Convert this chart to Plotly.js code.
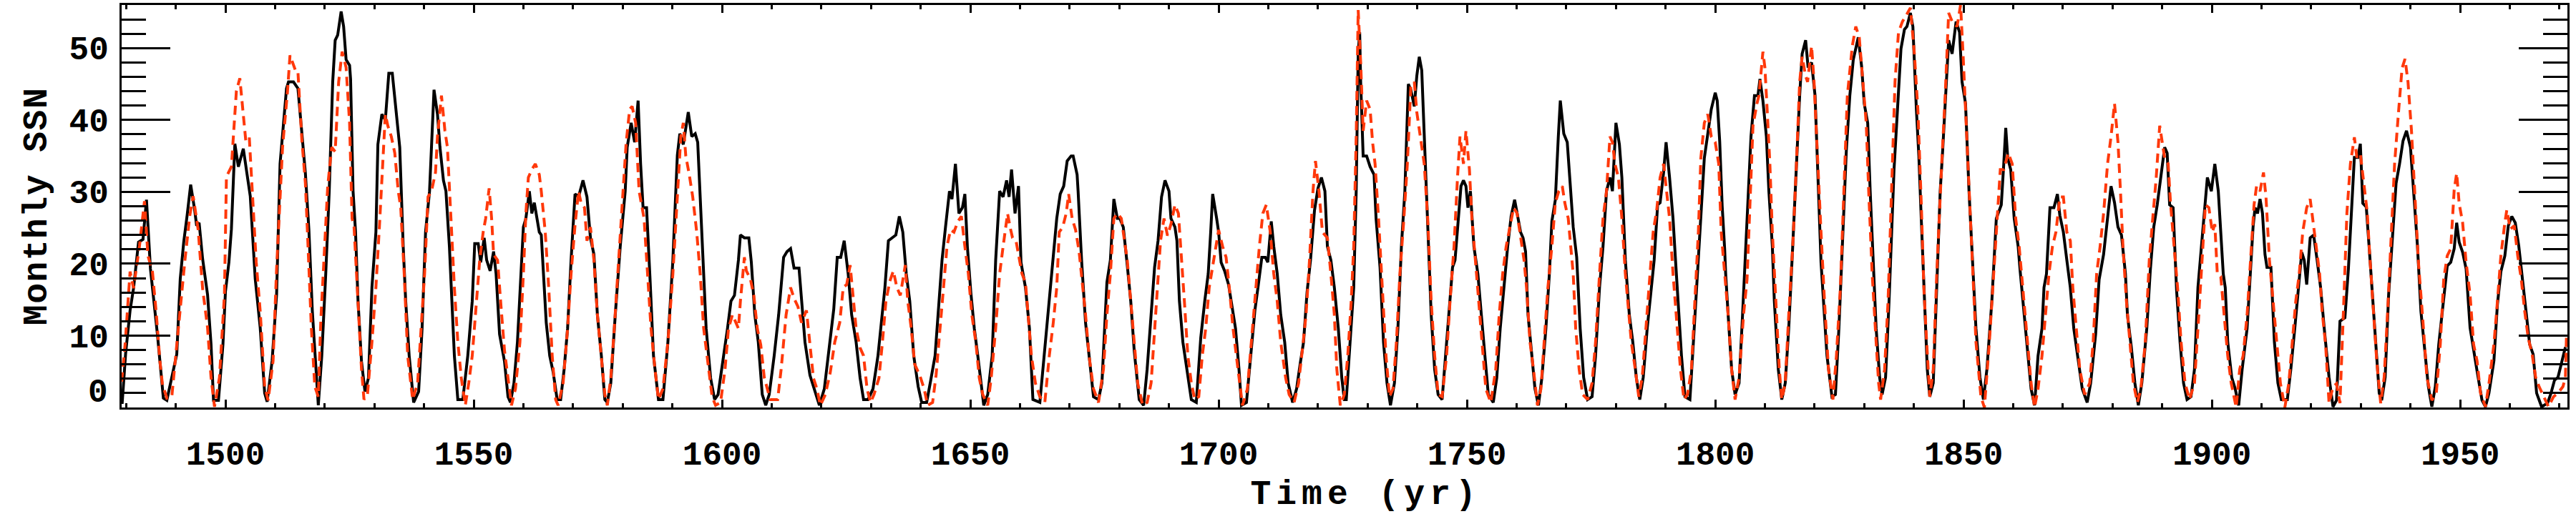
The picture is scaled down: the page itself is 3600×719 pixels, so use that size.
<!DOCTYPE html>
<html>
<head>
<meta charset="utf-8">
<script src="https://cdn.plot.ly/plotly-3.0.1.min.js"></script>
<style>
  html, body { margin: 0; padding: 0; background: #fff; }
  #chart { width: 3600px; height: 719px; }
  /* wide, airy lettering for the x-axis title */
  g.annotation[data-index="0"] text { letter-spacing: 7px; }
  .ytitle { letter-spacing: 1.5px; }
</style>
</head>
<body>
<div id="chart"></div>
<script>
// Reconstructed monthly sunspot number (solid, black)
const blackYear = [1479.2,1479.9,1480.8,1481.5,1482.5,1483.4,1484.1,1484.9,1486.3,1487.5,1488.2,1490.2,1490.9,1491.6,1492.3,1493.0,1493.8,1494.2,1494.7,1495.4,1496.4,1497.1,1497.6,1498.6,1499.5,1500.0,1500.7,1501.2,1501.9,1502.6,1503.6,1504.3,1505.0,1506.0,1507.0,1507.9,1508.4,1509.4,1510.3,1511.0,1512.3,1512.7,1513.7,1514.6,1515.4,1516.1,1516.8,1517.5,1518.7,
1519.4,1520.2,1520.9,1521.6,1522.1,1522.6,1523.3,1523.8,1524.3,1525.0,1525.2,1525.7,1526.2,1526.7,1527.4,1528.1,1528.8,1529.5,1530.3,1530.7,1531.5,1532.2,1532.9,1533.6,1534.3,1535.1,1535.8,1536.3,1537.0,1537.9,1538.9,1539.6,1540.3,1541.1,1542.0,1542.7,1543.2,1543.9,1544.4,1545.1,1545.6,1546.1,1546.8,1547.8,1548.8,1549.7,1550.2,1550.9,1551.4,1552.1,1552.6,1553.3,1554.0,1554.5,1555.2,1556.2,1556.9,1557.4,1558.1,1558.8,
1560.0,1560.5,1561.2,1561.7,1562.2,1562.7,1563.2,1563.6,1564.1,1564.6,1565.3,1566.0,1566.8,1567.5,1568.2,1568.9,1569.6,1570.4,1571.1,1572.0,1572.8,1573.5,1574.2,1574.9,1575.7,1576.4,1576.9,1577.6,1578.5,1579.5,1580.5,1580.9,1581.7,1582.4,1583.1,1583.6,1584.1,1584.8,1585.5,1586.2,1587.2,1588.1,1589.1,1590.1,1591.0,1591.5,1592.2,1593.2,1593.9,1594.6,1595.1,1595.6,1596.3,1596.8,1597.7,1598.5,1599.2,
1600.1,1601.1,1601.8,1602.5,1603.3,1603.7,1604.5,1605.4,1605.9,1606.6,1607.3,1608.1,1608.8,1609.5,1610.5,1611.4,1612.4,1613.1,1613.8,1614.5,1615.5,1616.0,1616.7,1617.7,1618.6,1619.6,1620.6,1621.5,1622.5,1623.2,1623.9,1624.6,1625.4,1626.1,1627.0,1627.8,1628.5,1629.4,1630.4,1631.4,1632.1,1632.8,1633.5,1634.2,1635.0,1635.7,1636.4,1637.1,1637.8,1638.6,1639.5,1640.2,
1641.2,1642.0,1642.9,1643.9,1644.3,1645.0,1645.8,1646.3,1647.0,1647.7,1648.4,1648.9,1649.4,1650.1,1650.8,1651.5,1652.3,1652.7,1653.5,1654.4,1655.1,1655.9,1656.6,1657.3,1657.8,1658.3,1659.0,1659.7,1660.2,1661.1,1661.9,1662.6,1664.0,1664.7,1665.7,1666.7,1667.4,1668.1,1668.8,1669.5,1670.3,1670.7,1671.5,1671.7,1672.4,1673.2,1673.9,1674.8,1675.8,1676.5,1677.5,1678.2,1678.9,1679.6,
1680.1,1680.8,1681.6,1682.3,1683.0,1684.0,1684.9,1685.6,1686.4,1687.1,1687.8,1688.5,1689.2,1690.0,1690.4,1691.2,1691.6,1692.1,1692.8,1693.6,1694.5,1695.5,1696.4,1697.2,1697.9,1698.4,1698.8,1699.6,1700.0,1700.5,1701.2,1702.0,1702.7,1703.4,1704.1,1704.6,1705.6,1706.5,1707.3,1708.0,1708.7,1709.4,1709.9,1710.6,1711.1,1711.8,1712.5,1713.3,1714.0,1714.9,1715.7,1716.4,1717.1,1717.8,1718.5,1719.3,1720.0,
1720.7,1721.4,1721.9,1722.6,1723.3,1724.1,1724.8,1725.3,1725.7,1726.5,1727.2,1727.7,1728.1,1728.4,1728.6,1729.1,1729.8,1730.5,1731.3,1731.7,1732.5,1733.2,1733.9,1734.6,1735.4,1736.1,1736.8,1737.5,1738.2,1738.7,1739.4,1739.9,1740.4,1740.9,1741.6,1742.3,1742.8,1743.5,1744.2,1745.0,1745.7,1746.4,1747.1,1747.6,1748.3,1748.8,1749.3,1749.8,1750.2,1750.7,1751.4,1752.2,1752.9,1753.6,1754.3,1755.3,1756.0,1756.7,1757.4,1758.2,1758.9,1759.6,1760.3,1760.8,
1761.3,1761.8,1762.3,1763.0,1763.7,1764.4,1765.1,1765.9,1766.6,1767.1,1767.8,1768.4,1768.8,1769.5,1770.2,1770.7,1771.4,1772.1,1772.8,1773.5,1774.3,1775.2,1775.9,1776.7,1777.4,1778.1,1778.8,1779.3,1780.0,1780.7,1781.2,1781.9,1782.7,1783.4,1784.1,1784.8,1785.5,1786.3,1787.0,1787.7,1788.4,1788.9,1789.6,1790.1,1790.8,1791.5,1792.0,1792.5,1793.2,1793.9,1794.9,1795.6,1796.4,1797.1,1797.8,1798.5,1799.2,1800.0,1800.4,1800.9,1801.4,1801.9,
1802.1,1802.6,1803.3,1804.0,1804.8,1805.5,1806.2,1806.7,1807.2,1807.9,1808.6,1809.0,1809.6,1810.3,1810.8,1811.5,1811.9,1812.7,1813.4,1814.1,1814.8,1815.6,1816.3,1817.0,1817.5,1818.2,1818.7,1819.4,1820.1,1820.8,1821.3,1821.8,1822.5,1823.5,1824.2,1824.9,1825.6,1826.4,1827.1,1827.8,1828.8,1829.5,1830.0,1830.7,1831.2,1831.9,1832.4,1833.1,1833.6,1834.3,1835.0,1836.0,1836.7,1837.4,1838.1,1838.6,1839.3,1839.8,1840.5,1841.0,
1841.5,1842.0,1842.7,1843.2,1843.9,1844.6,1845.3,1845.8,1846.3,1847.0,1847.7,1848.5,1849.2,1849.7,1850.4,1851.1,1851.8,1852.5,1853.3,1854.0,1854.7,1855.7,1856.6,1857.6,1858.1,1858.5,1858.9,1859.5,1860.2,1861.0,1861.4,1862.2,1862.9,1863.6,1864.3,1865.0,1865.8,1866.2,1866.7,1867.4,1868.2,1868.9,1869.4,1870.1,1870.8,1871.5,1872.2,1873.0,1873.9,1874.9,1875.6,1876.6,1877.3,1878.2,1879.0,1879.7,1880.4,1881.1,1881.8,1882.6,1883.0,1883.8,1884.5,1885.2,
1885.9,1886.9,1887.6,1888.3,1889.0,1889.8,1890.5,1891.0,1891.5,1892.2,1892.9,1893.6,1894.3,1895.0,1895.8,1896.5,1897.2,1897.9,1898.7,1899.1,1899.9,1900.6,1901.3,1901.8,1902.3,1902.7,1903.2,1904.0,1904.7,1905.4,1906.1,1907.1,1907.8,1908.3,1908.7,1909.2,1909.7,1910.2,1910.7,1911.1,1911.9,1912.6,1913.3,1914.0,1915.2,1915.9,1916.7,1917.4,1918.1,1918.6,1919.1,1919.8,1920.5,1921.2,1921.9,1922.7,
1923.6,1924.4,1925.1,1925.8,1926.8,1927.5,1928.2,1928.7,1929.4,1929.9,1930.4,1931.1,1931.8,1932.3,1933.0,1933.7,1934.2,1934.9,1935.6,1936.4,1937.1,1937.8,1938.5,1939.2,1940.0,1940.7,1941.4,1942.1,1942.8,1943.6,1944.3,1945.0,1945.7,1946.7,1947.4,1948.1,1948.8,1949.3,1949.8,1950.5,1951.2,1952.0,1952.7,1953.4,1954.4,1955.1,1955.8,1956.8,1957.5,1958.2,1959.0,1959.7,1960.4,1961.1,1961.8,1962.5,1963.3,1964.0,1964.7,1965.4,1966.4,1967.6,1968.3,1969.0,1969.7,1970.5,1971.2];
const blackSSN = [0.5,7.5,13.5,16.6,23.0,23.4,28.9,19.3,10.2,1.3,1.0,7.4,17.9,23.0,26.8,31.0,27.5,25.3,25.7,20.7,15.7,8.8,1.0,1.0,8.8,16.1,20.2,24.8,36.7,33.5,36.0,32.6,29.4,17.9,11.1,2.0,0.8,6.5,15.7,33.9,44.4,45.3,45.3,44.4,38.5,32.6,24.8,13.4,0.3,
7.2,18.6,30.1,45.3,51.1,51.8,55.1,53.0,48.4,47.6,45.7,30.1,24.4,14.8,6.4,2.2,4.1,16.7,24.4,36.6,40.8,40.0,46.5,46.5,41.5,36.2,22.4,14.8,7.2,0.7,2.2,11.0,24.4,30.1,44.2,40.8,36.2,31.6,30.1,22.4,14.8,7.2,1.1,1.1,7.2,14.8,22.8,22.8,20.2,23.6,20.5,19.0,21.7,18.6,10.2,6.4,1.5,0.7,3.4,9.1,
25.1,26.3,30.1,27.0,28.5,26.3,24.4,24.0,18.6,11.8,7.2,4.9,1.1,1.1,5.3,11.0,20.5,29.7,29.3,31.6,29.3,23.6,21.3,12.9,7.2,1.1,0.7,3.4,12.9,22.4,30.1,36.2,39.6,36.9,42.7,33.9,27.8,27.8,17.9,7.2,1.1,1.1,9.1,20.5,35.1,38.1,36.6,41.1,37.7,38.1,36.9,28.9,18.6,11.0,4.1,1.1,1.8,
6.0,11.0,14.8,15.6,20.5,24.0,23.6,23.6,20.2,12.9,9.1,1.8,0.3,1.8,7.2,12.9,20.9,21.7,22.1,19.4,19.4,14.8,9.1,4.5,2.6,0.3,2.6,7.9,13.7,20.9,20.9,23.2,18.6,12.9,9.1,4.1,1.1,1.1,2.6,7.2,11.8,16.7,23.2,23.6,24.0,26.6,24.4,18.6,14.8,7.2,2.9,0.7,
0.7,3.7,7.2,16.7,20.5,25.1,30.1,29.0,33.9,27.0,27.8,29.7,22.4,16.0,11.0,7.2,2.6,0.3,1.8,7.2,20.5,30.1,29.3,31.6,29.3,33.1,27.0,30.8,20.2,16.7,11.0,1.1,0.7,6.0,13.7,20.5,26.3,29.7,30.8,34.3,35.0,35.0,32.4,30.1,20.5,11.8,7.2,1.5,1.1,3.4,17.4,20.5,29.0,26.3,
26.3,25.1,19.8,14.8,7.9,1.1,0.3,5.3,12.9,19.5,23.2,29.3,31.6,30.1,26.3,25.1,23.2,14.8,9.1,5.3,1.1,0.7,9.7,14.8,18.6,24.4,29.7,26.3,24.4,20.2,19.0,17.1,14.0,11.0,5.3,0.3,0.7,7.2,13.5,17.1,20.9,20.9,20.2,25.9,22.4,18.6,12.9,9.1,3.4,0.7,2.6,6.0,9.1,16.0,20.5,27.4,30.5,
32.0,30.1,22.4,20.5,16.7,11.0,4.1,1.1,1.1,9.1,16.7,30.1,49.2,52.2,45.3,35.0,35.0,33.5,32.4,26.3,19.5,9.1,3.4,0.3,3.4,11.0,22.4,30.1,45.0,44.2,41.9,46.1,48.8,46.9,33.9,20.5,12.9,5.3,1.8,1.1,7.2,12.9,19.5,20.5,26.3,30.8,31.6,30.8,27.8,30.1,22.4,18.6,12.9,7.2,1.8,0.7,4.1,11.0,16.7,22.4,26.6,28.9,26.3,24.4,
23.6,21.7,12.9,7.2,2.6,0.3,4.2,11.0,18.6,25.9,28.9,37.7,42.7,38.1,36.9,32.0,25.1,20.9,11.0,4.2,1.1,1.5,7.2,16.7,22.4,30.1,32.0,30.1,39.6,36.6,32.0,20.5,12.9,9.1,4.2,1.1,4.2,11.0,16.0,20.5,28.2,28.5,32.7,36.9,32.0,26.3,20.5,14.8,7.2,1.5,1.1,9.1,18.6,26.3,34.7,38.1,41.5,43.8,42.7,37.0,28.0,22.0,
18.6,12.9,5.3,1.8,3.4,12.9,22.4,30.8,37.7,43.4,43.4,45.7,42.7,37.7,30.1,22.4,14.8,5.3,1.1,3.4,11.0,22.4,33.9,43.4,49.2,51.1,47.3,48.0,43.4,30.1,20.2,14.8,7.2,1.5,1.8,11.0,22.4,35.8,43.4,48.4,51.5,47.3,42.3,39.6,30.1,18.6,11.0,4.2,1.8,4.2,14.8,33.1,42.3,49.9,52.6,53.0,54.9,53.0,41.5,35.0,
26.0,16.7,5.3,1.5,3.4,16.7,30.1,35.8,42.7,51.1,49.2,53.7,52.2,45.3,42.3,30.1,20.5,11.0,4.2,1.1,5.3,14.8,26.3,28.2,33.9,38.9,34.7,33.1,26.3,22.4,19.0,12.9,7.2,2.6,0.3,7.2,11.0,16.7,18.6,27.8,27.8,29.7,26.7,24.4,20.5,16.7,11.0,7.2,2.6,0.7,3.4,10.2,17.8,21.3,26.3,30.8,28.5,25.1,24.0,18.6,12.9,8.3,3.4,0.3,
3.4,11.0,19.0,25.1,28.2,32.7,36.2,35.4,28.2,27.8,16.3,9.1,3.4,1.1,1.5,5.3,16.7,22.4,29.0,32.0,30.1,33.9,30.1,24.4,18.6,16.7,9.1,4.2,2.6,0.3,5.3,11.0,18.6,25.1,27.8,27.0,29.0,27.0,21.3,19.5,19.5,9.1,3.4,1.1,1.1,5.3,11.0,16.7,21.6,20.5,17.1,23.6,24.0,20.5,16.7,10.5,
4.2,0.1,1.0,12.0,12.5,19.3,28.4,34.8,34.8,36.7,28.4,27.9,21.1,15.7,8.8,2.0,1.0,4.2,15.7,24.8,31.2,33.9,37.1,38.5,36.2,29.4,22.5,13.4,8.8,2.9,0.1,2.9,8.8,15.7,19.7,20.2,22.1,25.7,23.0,21.6,19.3,11.1,7.9,5.1,1.0,0.1,2.0,6.5,14.3,18.9,21.1,25.3,26.6,25.7,22.5,17.9,13.4,8.8,7.4,2.0,0.1,0.6,2.0,3.8,4.2,6.5,8.4];

// Model / comparison series (dashed, red)
const redYear = [1479.1,1479.8,1480.8,1481.5,1482.7,1483.7,1484.4,1485.3,1486.1,1486.8,1487.3,1488.2,1489.2,1490.2,1491.1,1491.8,1492.8,1493.5,1494.5,1495.4,1496.4,1497.1,1497.8,1498.8,1499.8,1500.2,1501.2,1502.2,1502.9,1503.6,1504.1,1504.8,1505.5,1506.2,1507.0,1507.9,1508.6,1509.6,1510.3,1511.5,1512.5,1513.0,1514.2,1514.6,1515.4,1516.1,1516.6,1517.3,1518.0,1518.7,
1519.2,1519.9,1520.6,1521.4,1522.1,1522.8,1523.5,1524.3,1525.0,1525.5,1525.9,1526.4,1526.9,1527.4,1527.9,1528.6,1529.5,1530.3,1531.0,1531.7,1532.2,1532.7,1533.4,1534.1,1534.8,1535.3,1536.0,1536.7,1537.7,1538.7,1539.4,1540.1,1540.8,1541.5,1542.3,1542.7,1543.5,1544.2,1544.7,1545.1,1545.6,1546.1,1546.8,1547.5,1548.3,1549.0,1549.7,1550.4,1551.2,1551.9,1552.4,1553.1,1553.6,1554.0,1554.8,1555.5,1556.2,1556.9,1557.6,1558.4,1559.3,
1560.0,1560.5,1561.0,1561.7,1562.4,1563.2,1563.6,1564.4,1565.1,1565.8,1566.5,1567.0,1568.0,1568.9,1569.6,1570.4,1571.1,1571.6,1572.3,1572.8,1573.5,1574.2,1574.9,1575.7,1576.4,1576.9,1577.6,1578.3,1579.0,1580.0,1580.7,1581.4,1581.9,1582.6,1583.3,1584.3,1585.0,1585.7,1586.5,1587.2,1588.1,1589.1,1590.1,1591.0,1591.7,1592.2,1592.7,1593.4,1594.1,1594.9,1595.6,1596.3,1597.3,1598.0,1598.7,1599.7,
1600.6,1601.3,1602.1,1603.3,1603.7,1604.5,1604.9,1605.7,1606.4,1607.1,1607.8,1608.5,1609.7,1611.2,1611.9,1612.9,1613.8,1614.5,1615.3,1616.0,1617.0,1617.7,1618.4,1619.1,1619.8,1620.8,1621.8,1622.7,1623.7,1624.4,1625.1,1625.8,1626.3,1627.0,1627.8,1628.5,1629.2,1629.9,1630.6,1631.6,1632.3,1633.0,1633.8,1634.5,1635.2,1635.9,1636.9,1637.4,1638.1,1638.8,1639.8,
1640.7,1641.4,1642.4,1643.1,1643.9,1644.6,1645.3,1646.0,1646.7,1647.5,1648.2,1648.9,1649.6,1650.3,1651.1,1651.8,1652.5,1653.5,1654.2,1655.1,1655.9,1656.6,1657.1,1657.5,1658.0,1658.5,1659.2,1660.0,1660.4,1661.1,1661.6,1662.3,1663.1,1664.0,1665.0,1665.9,1666.7,1667.4,1667.9,1668.6,1669.3,1669.8,1670.5,1671.2,1671.9,1672.4,1673.2,1673.9,1674.8,1675.8,1676.8,1677.5,1678.2,1678.9,1679.6,
1680.4,1680.8,1681.6,1682.3,1683.0,1683.7,1684.7,1685.6,1686.4,1687.1,1687.8,1688.3,1689.0,1689.7,1690.4,1691.2,1691.9,1692.4,1693.1,1693.8,1694.5,1695.2,1696.0,1696.7,1697.4,1698.1,1698.8,1699.6,1700.0,1700.8,1701.5,1702.2,1702.9,1703.9,1704.8,1705.8,1706.8,1707.5,1708.2,1708.9,1709.6,1710.4,1711.1,1711.8,1712.5,1713.5,1714.2,1715.2,1716.1,1716.9,1717.6,1718.3,1719.0,1719.5,1720.2,
1720.9,1721.9,1722.6,1723.3,1723.8,1724.5,1725.3,1726.0,1726.7,1727.2,1727.7,1728.1,1728.6,1729.1,1729.8,1730.5,1731.0,1731.5,1732.2,1732.9,1733.7,1734.4,1735.1,1735.8,1736.5,1737.3,1738.0,1738.7,1739.4,1739.9,1740.6,1741.4,1742.1,1742.8,1743.5,1744.2,1745.0,1745.9,1746.6,1747.4,1748.1,1748.6,1749.3,1749.8,1750.5,1751.0,1751.7,1752.4,1753.1,1753.8,1754.8,1755.8,1756.5,1757.2,1757.9,1758.6,1759.4,1760.1,1760.8,
1761.5,1762.0,1762.7,1763.4,1764.2,1764.9,1765.6,1766.3,1767.1,1767.8,1768.5,1769.2,1769.7,1770.4,1770.9,1771.4,1771.9,1772.6,1773.3,1774.3,1775.2,1775.9,1776.7,1777.4,1778.1,1778.8,1779.3,1779.8,1780.5,1781.2,1781.9,1782.4,1783.1,1783.9,1784.6,1785.3,1786.0,1786.8,1787.5,1788.2,1788.9,1789.6,1790.1,1790.8,1791.5,1792.3,1793.0,1793.7,1794.4,1795.2,1795.9,1796.6,1797.1,1797.8,1798.5,1799.2,1800.0,1800.7,1801.2,
1801.9,1802.6,1803.3,1804.0,1804.8,1805.7,1806.4,1806.9,1807.6,1808.4,1808.8,1809.6,1810.0,1810.5,1811.0,1811.5,1812.2,1812.9,1813.4,1814.1,1814.8,1815.6,1816.3,1817.0,1817.5,1818.2,1818.6,1819.4,1819.9,1820.6,1821.3,1822.0,1822.8,1823.7,1824.4,1825.2,1825.9,1826.6,1827.6,1828.3,1829.0,1829.7,1830.4,1830.9,1831.6,1832.4,1832.9,1833.3,1834.1,1834.8,1835.5,1836.2,1836.9,1837.7,1838.4,1839.3,1840.1,1840.8,
1841.5,1842.0,1842.5,1843.2,1843.9,1844.6,1845.6,1846.3,1847.0,1847.7,1848.7,1849.4,1849.9,1850.4,1851.1,1851.8,1852.5,1853.5,1854.2,1855.2,1855.9,1856.9,1857.4,1858.1,1859.0,1859.8,1860.5,1861.2,1861.9,1862.6,1863.6,1864.3,1865.0,1865.8,1866.5,1867.2,1867.9,1868.6,1869.4,1870.1,1870.8,1871.5,1872.0,1872.7,1873.4,1874.4,1875.4,1876.1,1876.8,1877.5,1878.2,1879.0,1879.7,1880.4,1881.1,
1881.6,1882.1,1882.8,1883.5,1884.2,1885.0,1885.7,1886.6,1887.4,1888.1,1888.8,1889.5,1890.0,1890.5,1891.2,1891.7,1892.4,1893.1,1893.8,1894.6,1895.5,1896.5,1897.2,1897.9,1898.7,1899.4,1900.1,1900.6,1901.1,1901.8,1902.5,1903.2,1903.9,1904.9,1905.6,1906.3,1907.1,1907.8,1908.5,1909.0,1909.7,1910.4,1910.9,1911.6,1912.3,1913.1,1913.8,1914.7,1915.5,1916.2,1916.9,1917.6,1918.3,1919.1,1919.8,1920.3,1921.0,1921.7,
1922.2,1922.9,1923.6,1924.4,1925.1,1925.8,1926.5,1927.2,1927.9,1928.7,1929.2,1929.9,1930.6,1931.3,1931.8,1932.5,1933.2,1934.0,1934.7,1935.4,1936.1,1936.8,1937.6,1938.3,1938.9,1939.5,1940.2,1940.9,1941.6,1942.6,1943.3,1944.3,1945.2,1946.0,1946.7,1947.4,1948.1,1948.8,1949.3,1949.8,1950.5,1951.2,1952.0,1952.7,1953.4,1954.1,1955.1,1955.8,1956.8,1957.5,1958.2,1959.0,1959.4,1960.1,1960.9,1961.6,1962.3,1963.0,1963.7,1964.5,1965.2,1965.9,1966.9,1967.8,1968.8,1969.7,1970.7,1971.2,1971.4];
const redSSN = [3.6,8.8,18.9,16.6,22.5,28.7,21.1,18.9,12.9,6.5,3.3,1.3,1.5,8.8,15.7,20.2,26.6,29.4,24.8,16.6,11.1,4.2,0.1,4.2,15.7,32.1,33.5,44.0,45.8,40.8,37.1,37.6,29.4,20.2,13.4,2.9,1.0,6.5,19.3,36.2,44.0,49.0,46.7,46.7,37.1,31.2,23.0,11.1,2.9,1.5,
12.0,22.4,30.8,36.2,35.6,45.3,49.5,47.3,39.6,26.3,25.1,18.6,11.0,5.3,1.1,1.8,9.1,16.7,25.1,33.9,40.8,39.2,37.7,35.4,30.1,27.8,18.6,7.2,1.1,3.4,11.0,18.6,29.3,30.1,32.7,37.7,43.4,38.5,36.2,30.1,24.4,16.7,9.1,4.1,0.3,3.4,7.2,12.9,20.5,24.4,26.3,30.5,26.3,21.3,20.5,14.0,7.9,4.1,0.3,2.6,9.1,
18.6,27.0,32.0,33.1,33.9,32.4,30.1,24.4,16.7,7.2,1.1,0.3,3.4,11.0,18.6,25.4,30.1,28.5,27.8,23.2,25.1,20.5,12.9,6.4,1.8,0.3,4.1,11.0,18.6,30.1,36.9,41.5,41.9,39.6,30.1,26.3,18.6,11.0,5.3,1.1,2.6,9.1,18.6,30.1,37.7,39.6,35.0,32.4,29.3,24.4,18.6,11.0,5.3,1.5,0.3,0.7,
5.3,11.0,12.9,11.0,14.8,20.9,19.0,17.9,15.6,11.0,8.7,4.2,1.1,1.1,5.3,12.9,16.7,15.2,14.0,11.8,13.5,9.1,4.1,2.6,0.3,1.8,4.9,9.1,11.8,16.7,17.1,19.8,16.3,11.0,8.3,7.2,2.6,0.7,1.8,4.1,9.1,14.8,17.6,19.0,16.7,15.6,19.8,14.8,11.0,6.0,4.5,
2.6,0.3,0.7,4.5,11.0,16.7,22.4,24.7,24.4,25.9,26.6,22.4,18.6,12.9,9.1,4.1,1.8,0.3,4.1,11.0,18.6,22.4,25.1,27.0,25.1,23.6,23.2,19.8,18.6,17.4,12.9,7.2,3.4,1.5,0.7,7.2,11.8,16.7,24.4,25.1,27.0,29.7,26.3,24.7,21.7,18.6,12.9,7.2,2.6,0.7,5.3,12.9,18.6,26.3,27.0,
26.3,24.4,20.5,14.8,9.1,3.4,0.3,0.7,3.4,11.0,18.6,23.2,26.3,23.9,25.5,28.2,27.0,22.4,14.8,7.2,3.4,1.1,1.5,7.2,11.0,16.7,19.5,23.2,24.7,22.4,20.9,16.3,11.0,5.3,0.3,2.6,11.0,16.7,22.4,27.0,28.2,24.4,18.6,14.8,9.1,4.1,1.8,0.7,3.4,8.3,12.9,20.5,30.1,34.3,30.1,
24.4,23.6,18.6,12.9,5.3,0.3,1.8,7.2,14.8,22.4,37.7,55.3,48.0,38.5,42.7,41.5,36.9,33.9,26.3,16.7,7.2,1.5,2.6,9.1,18.6,26.3,33.9,44.6,45.3,41.1,37.7,33.9,26.3,14.8,7.2,1.8,1.5,7.2,14.8,22.4,32.0,37.7,33.9,38.5,33.1,26.3,20.5,14.8,9.1,2.6,0.7,5.3,12.9,18.6,22.4,24.7,27.8,27.0,24.0,
20.5,16.7,9.1,5.3,0.3,2.6,9.1,16.7,22.4,28.5,30.1,30.8,28.5,26.3,22.4,18.6,11.0,5.3,1.8,1.1,3.4,9.1,18.6,26.3,30.1,37.7,36.9,33.9,32.0,26.3,18.6,14.8,9.1,5.3,1.5,4.2,11.0,18.6,24.4,27.4,32.0,33.9,30.8,26.3,18.6,11.0,5.3,1.1,1.8,5.3,14.8,24.4,34.7,39.6,40.8,37.7,36.9,33.9,24.4,
18.6,12.9,5.3,1.1,4.2,12.9,17.8,26.3,39.2,42.3,43.4,49.5,47.3,40.8,33.9,24.4,14.8,5.3,1.1,3.4,12.9,22.4,33.1,45.3,48.8,46.1,45.3,50.3,45.3,33.9,24.4,14.8,5.3,1.1,7.2,16.7,30.1,43.4,50.3,53.0,51.5,45.3,39.6,30.1,18.6,9.1,3.4,1.1,5.3,14.8,30.1,45.3,52.2,53.7,54.5,55.6,49.2,41.5,
28.2,16.7,10.0,1.5,5.3,18.6,33.9,43.4,54.9,53.7,53.0,56.0,49.2,41.5,30.1,18.6,9.1,1.5,0.0,9.1,16.7,26.3,33.1,33.1,35.4,33.9,26.3,22.4,16.7,11.0,3.4,0.0,2.6,7.2,12.9,18.6,22.4,24.4,29.3,29.3,24.4,23.2,16.7,11.0,5.3,1.8,3.4,9.1,18.6,22.4,27.0,33.9,37.7,42.3,36.9,
30.1,22.4,14.8,9.1,3.4,0.7,2.6,9.1,20.5,26.3,32.0,39.2,36.6,34.7,33.9,28.2,22.4,16.7,9.1,3.4,1.1,3.4,11.0,18.6,28.2,27.8,24.4,25.5,18.6,18.2,12.9,7.2,3.4,0.0,5.3,7.2,12.9,20.5,28.2,30.8,30.1,32.7,29.3,20.5,14.8,9.1,3.4,0.0,3.4,9.1,14.8,18.6,24.4,27.8,29.0,26.3,22.4,18.6,
13.4,8.8,0.6,2.9,3.3,0.6,13.4,27.1,33.9,37.6,34.8,35.3,31.2,27.1,21.1,13.4,6.5,0.6,4.2,13.4,23.9,33.9,41.2,47.2,48.5,45.3,38.5,29.4,20.2,11.1,4.2,1.0,2.0,8.8,17.9,21.1,22.1,30.3,32.6,28.4,25.7,20.2,15.7,8.8,6.5,2.0,0.1,3.3,8.8,14.7,21.1,25.7,27.5,24.8,25.3,21.1,17.9,13.4,9.7,7.4,4.2,2.9,1.5,0.1,1.5,2.0,2.9,4.2,9.7];

// Axis ticks and labels
const xTickVals = [1500, 1550, 1600, 1650, 1700, 1750, 1800, 1850, 1900, 1950];
const yTickVals = [0, 10, 20, 30, 40, 50];
// the zero label is drawn separately, lifted clear of the bottom axis
const yTickText = ['', '10', '20', '30', '40', '50'];

const FONT = 'Liberation Mono';
const FSIZE = 46;
const TITLE_SIZE = 48;

const traces = [
  {
    x: blackYear, y: blackSSN, type: 'scatter', mode: 'lines',
    line: { color: '#000000', width: 4 },
    hoverinfo: 'skip', showlegend: false
  },
  {
    x: redYear, y: redSSN, type: 'scatter', mode: 'lines',
    line: { color: 'rgb(255,56,10)', width: 4, dash: '13px,8px' },
    hoverinfo: 'skip', showlegend: false
  }
];

const layout = {
  width: 3600, height: 719,
  margin: { l: 170, r: 12, t: 7, b: 149, pad: 0 },
  paper_bgcolor: '#ffffff', plot_bgcolor: '#ffffff',
  font: { family: FONT, size: FSIZE, color: '#000000', weight: 'bold' },
  showlegend: false,
  xaxis: {
    range: [1479.1, 1971.6],
    tickmode: 'array', tickvals: xTickVals,
    ticks: 'inside', ticklen: 11, tickwidth: 3, tickcolor: '#000',
    minor: { dtick: 10, tick0: 1480, ticks: 'inside', ticklen: 6, tickwidth: 3, tickcolor: '#000', showgrid: false },
    showline: true, linewidth: 3, linecolor: '#000', mirror: 'allticks',
    showgrid: false, zeroline: false,
    tickfont: { family: FONT, size: FSIZE, weight: 'bold' },
    ticklabelstandoff: 22
  },
  yaxis: {
    range: [0, 56],
    tickmode: 'array', tickvals: yTickVals, ticktext: yTickText,
    ticks: 'inside', ticklen: 68, tickwidth: 3, tickcolor: '#000',
    minor: { dtick: 2, tick0: 0, ticks: 'inside', ticklen: 34, tickwidth: 3, tickcolor: '#000', showgrid: false },
    showline: true, linewidth: 3, linecolor: '#000', mirror: 'allticks',
    showgrid: false, zeroline: false,
    tickfont: { family: FONT, size: FSIZE, weight: 'bold' },
    ticklabelstandoff: 6,
    title: { text: 'Monthly SSN', font: { family: FONT, size: TITLE_SIZE, weight: 'bold' }, standoff: 16 }
  },
  annotations: [
    {
      text: 'Time (yr)', xref: 'paper', yref: 'paper',
      x: 0.5085, y: 0, yshift: -122, xanchor: 'center', yanchor: 'middle',
      showarrow: false, font: { family: FONT, size: TITLE_SIZE, weight: 'bold', color: '#000' }
    },
    {
      text: '0', xref: 'paper', yref: 'y',
      x: 0, y: 0, xshift: -17, yshift: 20, xanchor: 'right', yanchor: 'middle',
      showarrow: false, font: { family: FONT, size: FSIZE, weight: 'bold', color: '#000' }
    }
  ]
};

Plotly.newPlot('chart', traces, layout, { staticPlot: true, displayModeBar: false });
</script>
</body>
</html>
